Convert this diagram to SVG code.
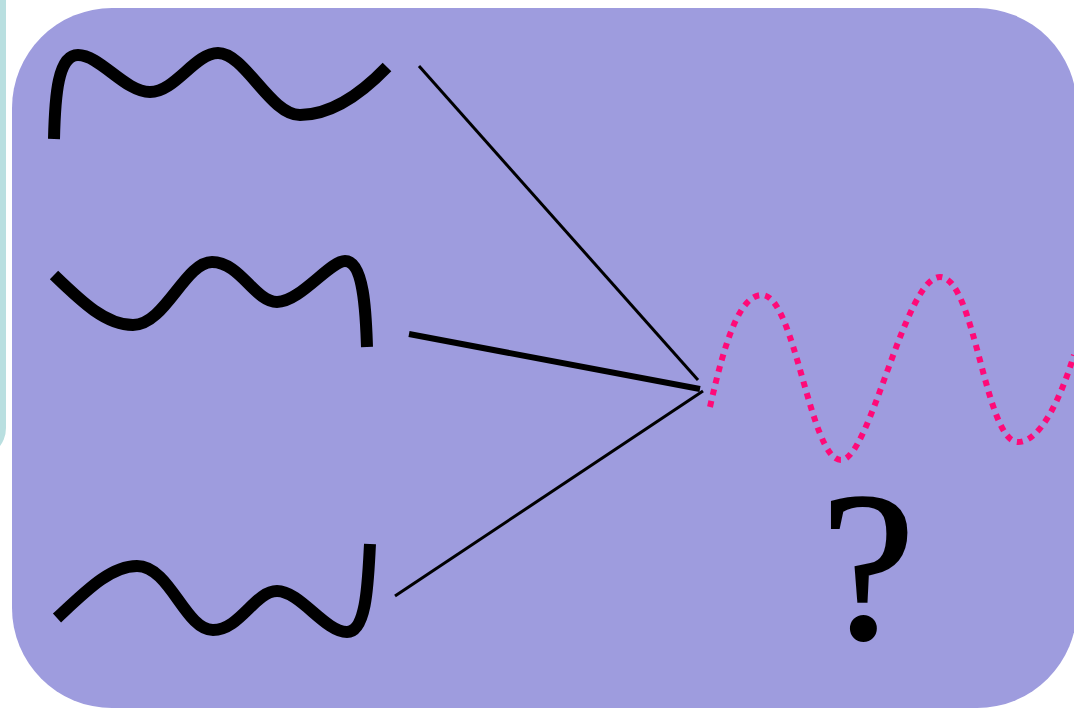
<svg xmlns="http://www.w3.org/2000/svg" width="1074" height="709" viewBox="0 0 1074 709">
  <style>
    .wave { fill: none; stroke: #000; stroke-width: 12; stroke-linejoin: round; }
    .conn { stroke: #000; stroke-width: 3; fill: none; }
    .thick { stroke-width: 6; }
    .dotted { fill: none; stroke: #ff0a78; stroke-width: 6; stroke-dasharray: 6 6; }
    .q { font-family: "Liberation Serif", "DejaVu Serif", serif; font-size: 212px; fill: #000; stroke: #000; stroke-width: 2; }
  </style>
  <rect x="0" y="0" width="1074" height="709" fill="#ffffff"/>
  <g id="background">
    <rect x="-60" y="-60" width="66" height="518" rx="30" fill="#b9dfe0"/>
    <rect x="12" y="8" width="1065" height="700" rx="100" fill="#9e9cde"/>
  </g>
  <g id="wave-top">
    <path class="wave" d="M54,139 C55,95 58,55 78,55 C100,55 125,92 150,92 C175,92 195,53 218,53 C245,53 270,115 300,115 C330,115 360,95 387,67"/>
  </g>
  <g id="wave-middle">
    <path class="wave" d="M54,275 C80,300 105,325 133,325 C165,325 185,262 212,262 C240,262 255,302 277,302 C300,302 330,261 345,261 C365,261 366,320 367,347"/>
  </g>
  <g id="wave-bottom">
    <path class="wave" d="M57,618 C85,592 110,566 137,566 C170,566 185,630 213,630 C240,630 255,591 277,591 C300,591 325,632 347,632 C367,632 368,580 370,544"/>
  </g>
  <g id="connectors">
    <line class="conn" x1="419" y1="66" x2="698" y2="380"/>
    <line class="conn thick" x1="409" y1="334" x2="700" y2="389"/>
    <line class="conn" x1="395" y1="596" x2="703" y2="391"/>
  </g>
  <g id="result-wave">
    <path class="dotted" d="M710,407 C725,340 740,295 762,295 C795,295 810,460 841,460 C870,460 905,277 940,277 C975,277 985,442 1018,442 C1040,442 1060,400 1074,355"/>
  </g>
  <g id="question">
    <text class="q" x="868" y="638" text-anchor="middle">?</text>
  </g>
</svg>
